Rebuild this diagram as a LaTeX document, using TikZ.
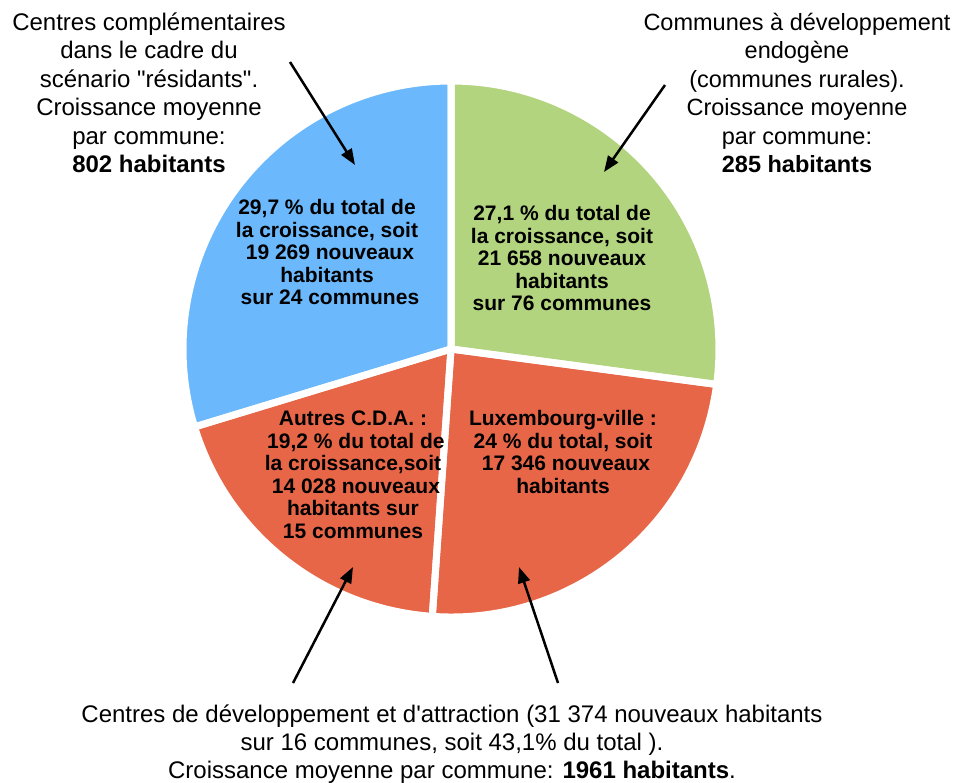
\documentclass[tikz,border=0pt]{standalone}
\usepackage{fontspec}
\setmainfont{Liberation Sans}[Ligatures=TeXOff]
\usetikzlibrary{arrows.meta}
\definecolor{pieblue}{RGB}{107,185,252}
\definecolor{piegreen}{RGB}{178,212,126}
\definecolor{piered}{RGB}{232,102,72}
\tikzset{
  slice/.style={draw=white, line width=7pt, line join=round},
  outtext/.style={align=center, inner sep=0pt, font=\fontsize{23.5}{28.5}\selectfont},
  intext/.style={align=center, inner sep=0pt, font=\fontsize{21}{22.5}\selectfont\bfseries},
  pointer/.style={line width=2.5pt, -{Triangle[length=16pt,width=12pt]}}
}
\begin{document}
\begin{tikzpicture}[x=1pt,y=-1pt]
\useasboundingbox (0,0) rectangle (964,782);
\coordinate (c) at (451,349);
\def\R{268}
\fill[piegreen] (c) -- ++(-90:\R) arc[start angle=-90,end angle=7.6,radius=\R] -- cycle;
\fill[piered] (c) -- ++(7.6:\R) arc[start angle=7.6,end angle=94,radius=\R] -- cycle;
\fill[piered] (c) -- ++(94:\R) arc[start angle=94,end angle=163.1,radius=\R] -- cycle;
\fill[pieblue] (c) -- ++(163.1:\R) arc[start angle=163.1,end angle=270,radius=\R] -- cycle;
\draw[slice] (c) -- ++(-90:\R) arc[start angle=-90,end angle=7.6,radius=\R] -- cycle;
\draw[slice] (c) -- ++(7.6:\R) arc[start angle=7.6,end angle=94,radius=\R] -- cycle;
\draw[slice] (c) -- ++(94:\R) arc[start angle=94,end angle=163.1,radius=\R] -- cycle;
\draw[slice] (c) -- ++(163.1:\R) arc[start angle=163.1,end angle=270,radius=\R] -- cycle;

\node[intext] (blue) at (327,252) {29,7 \% du total de\\la croissance, soit\\\ 19 269 nouveaux\\habitants\\\ sur 24 communes};
\node[intext] (green) at (562,258) {27,1 \% du total de\\la croissance, soit\\21 658 nouveaux\\habitants\\sur 76 communes};
\node[intext] (autres) at (353,475) {Autres C.D.A. :\\\ 19,2 \% du total de\\la croissance,soit\\\ 14 028 nouveaux\\habitants sur\\15 communes};
\node[intext] (lux) at (563,452) {Luxembourg-ville :\\24 \% du total, soit\ \\\ 17 346 nouveaux\\habitants};

\node[outtext, font=\fontsize{24}{28.5}\selectfont] (tl) at (149,93) {Centres complémentaires\\dans le cadre du\\scénario "résidants".\\Croissance moyenne\\par commune:\\\textbf{802 habitants}};
\node[outtext] (tr) at (797,93) {Communes à développement\\endogène\\(communes rurales).\\Croissance moyenne\\par commune:\\\textbf{285 habitants}};
\node[outtext, font=\fontsize{24}{28}\selectfont] (bot) at (452,744) {Centres de développement et d'attraction (31 374 nouveaux habitants\\sur 16 communes, soit 43,1\% du total ).\\Croissance moyenne par commune: \textbf{1961 habitants}.};

\coordinate (t1) at (290,62);  \coordinate (h1) at (355,165);
\coordinate (t2) at (665,85);  \coordinate (h2) at (604,172);
\coordinate (t3) at (293,683); \coordinate (h3) at (353,567);
\coordinate (t4) at (558,683); \coordinate (h4) at (519,567);
\draw[pointer] (t1) -- (h1);
\draw[pointer] (t2) -- (h2);
\draw[pointer] (t3) -- (h3);
\draw[pointer] (t4) -- (h4);
\end{tikzpicture}
\end{document}
